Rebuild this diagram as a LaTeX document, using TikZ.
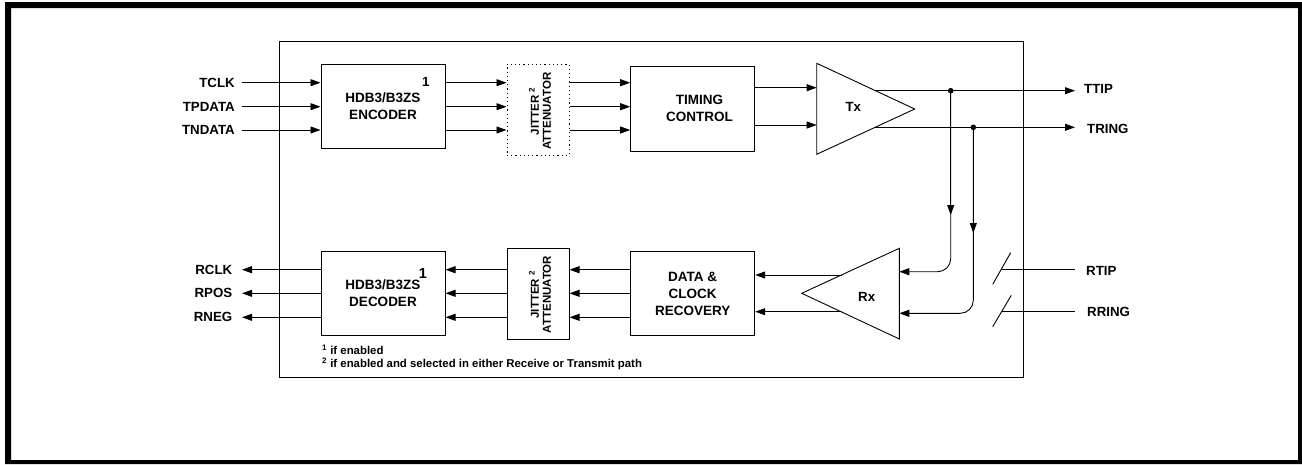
\documentclass[tikz,border=0pt]{standalone}
\usepackage{fontspec}
\setmainfont{Liberation Sans}
\usetikzlibrary{arrows.meta}
\tikzset{
  blockbox/.style={draw,line width=1pt,align=center,font=\fontsize{13.5}{17}\bfseries\selectfont,inner sep=0pt},
  pinlabel/.style={font=\fontsize{13.3}{16}\bfseries\selectfont,inner sep=0pt},
  sideways/.style={rotate=90,align=center,inner sep=0pt,font=\fontsize{11.5}{12}\bfseries\selectfont},
  notetext/.style={anchor=west,inner sep=0pt,font=\fontsize{11.4}{13}\bfseries\selectfont},
  sig/.style={line width=.9pt,-{Triangle[length=10pt,width=7pt]}},
  wire/.style={line width=.9pt}
}
\begin{document}
\begin{tikzpicture}[x=1pt,y=-1pt]
   \useasboundingbox (0,0) rectangle (1302,464);
   \path[fill=black,even odd rule] (5,2) rectangle (1302,464) (11,8) rectangle (1298,460);
   \draw[line width=1pt] (279.5,41) rectangle (1023,377.5);

   % transmit path
   \node[blockbox,minimum width=124pt,minimum height=84pt] (enc) at (383,106) {HDB3/B3ZS\\ENCODER};
   \node[blockbox,minimum width=62pt,minimum height=91pt,dash pattern=on 1.2pt off 3pt] (jita) at (538,109.5) {};
   \node[blockbox,minimum width=124pt,minimum height=84.5pt] (tim) at (692.7,108.8) {};
   \node[blockbox,draw=none] (timtxt) at (699.5,108) {TIMING\\CONTROL};
   \node[pinlabel] (encnum) at (425.7,82.3) {1};
   \node[sideways] (jitatxt) at (540,111.3) {JITTER \textsuperscript{2}\\ATTENUATOR};

   \coordinate (txa) at (816.7,63.3);
   \coordinate (txb) at (816.7,154.3);
   \coordinate (txc) at (914.7,109);
   \draw[line width=.9pt] (txa) -- (txb) -- (txc) -- cycle;
   \node[pinlabel] (txtxt) at (853.3,107.3) {Tx};

   \node[pinlabel,anchor=east] (tclk) at (235,82.7) {TCLK};
   \node[pinlabel,anchor=east] (tpdata) at (235,106.7) {TPDATA};
   \node[pinlabel,anchor=east] (tndata) at (235,130) {TNDATA};

   \foreach \y in {82.7,106.7,130}{
     \draw[sig] (241.7,\y) -- (enc.west |- 0,\y);
     \draw[sig] (enc.east |- 0,\y) -- (jita.west |- 0,\y);
     \draw[sig] (jita.east |- 0,\y) -- (tim.west |- 0,\y);
   }
   \draw[sig] (tim.east |- 0,87.7) -- (txa |- 0,87.7);
   \draw[sig] (tim.east |- 0,125) -- (txa |- 0,125);

   \coordinate (ttipdot) at (950.7,90.7);
   \coordinate (tringdot) at (973.3,127.3);
   \node[pinlabel,anchor=west] (ttip) at (1084,89) {TTIP};
   \node[pinlabel,anchor=west] (tring) at (1087,129) {TRING};
   \draw[sig] (875,90.7) -- (1075,90.7);
   \draw[sig] (875,127.3) -- (1075,127.3);
   \fill (ttipdot) circle (2.8pt);
   \fill (tringdot) circle (2.8pt);

   % receive path
   \node[blockbox,minimum width=124pt,minimum height=84.4pt] (dec) at (383,293.5) {HDB3/B3ZS\\DECODER};
   \node[blockbox,minimum width=62pt,minimum height=90.7pt] (jitb) at (538,293.7) {};
   \node[blockbox,minimum width=124pt,minimum height=84.4pt] (rec) at (692.7,293.5) {DATA \&\\CLOCK\\RECOVERY};
   \node[pinlabel,font=\fontsize{14.5}{16}\bfseries\selectfont] (decnum) at (423,273.3) {1};
   \node[sideways] (jitbtxt) at (540,294.5) {JITTER \textsuperscript{2}\\ATTENUATOR};

   \coordinate (rxa) at (899.3,248.3);
   \coordinate (rxb) at (899.3,339);
   \coordinate (rxc) at (801.7,293.3);
   \draw[line width=.9pt] (rxa) -- (rxb) -- (rxc) -- cycle;
   \node[pinlabel] (rxtxt) at (866.7,297.3) {Rx};

   \node[pinlabel,anchor=east] (rclk) at (232.5,269.7) {RCLK};
   \node[pinlabel,anchor=east] (rpos) at (232.5,292.5) {RPOS};
   \node[pinlabel,anchor=east] (rneg) at (232.5,316.5) {RNEG};

   \foreach \y in {269.7,293.3,317.3}{
     \draw[sig] (dec.west |- 0,\y) -- (242,\y);
     \draw[sig] (jitb.west |- 0,\y) -- (dec.east |- 0,\y);
     \draw[sig] (rec.west |- 0,\y) -- (jitb.east |- 0,\y);
   }
   \draw[sig] (841.7,275) -- (rec.east |- 0,275);
   \draw[sig] (841.7,311.7) -- (rec.east |- 0,311.7);

   \draw[sig] (ttipdot) -- (950.7,215);
   \draw[sig,rounded corners=13pt] (ttipdot) |- (rxa |- 0,271.7);
   \draw[sig] (tringdot) -- (973.3,233);
   \draw[sig,rounded corners=13pt] (tringdot) |- (rxa |- 0,313.3);

   \coordinate (rtipend) at (1075,269.3);
   \coordinate (rringend) at (1075,311.7);
   \node[pinlabel,anchor=west] (rtip) at (1086,271) {RTIP};
   \node[pinlabel,anchor=west] (rring) at (1087,311.7) {RRING};
   \draw[wire] (992.7,284.3) -- (1010.7,252.7);
   \draw[wire] (992.7,326.7) -- (1011.3,295.3);
   \draw[wire] (1001.7,269.3) -- (rtipend);
   \draw[wire] (1001.7,311.7) -- (rringend);

   % notes
   \node[notetext] (notea) at (322,350) {\textsuperscript{1} if enabled};
   \node[notetext] (noteb) at (322,364) {\textsuperscript{2} if enabled and selected in either Receive or Transmit path};
 \end{tikzpicture}
\end{document}
